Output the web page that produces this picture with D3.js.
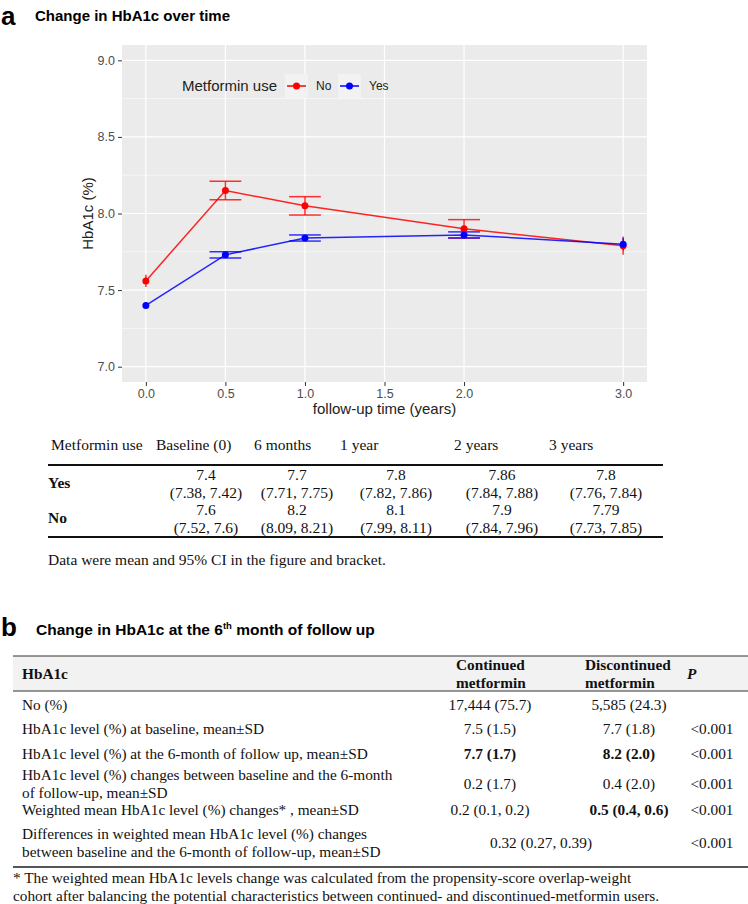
<!DOCTYPE html>
<html>
<head>
<meta charset="utf-8">
<script src="https://cdn.jsdelivr.net/npm/d3@7"></script>
<style>
    body { margin: 0; background: #fff; }
    #chart { width: 748px; height: 904px; }
</style>
</head>
<body>
<div id="chart"></div>
<script>

// panel a - chart values (mean and 95% CI)
var times = [0, 0.5, 1, 2, 3];
var xTicks = [0, 0.5, 1, 1.5, 2, 3];
var yTicks = [7, 7.5, 8, 8.5, 9];
var yMinor = [7.25, 7.75, 8.25, 8.75];

var noMean = [7.56, 8.15, 8.05, 7.90, 7.79];
var noLow  = [7.52, 8.09, 7.99, 7.84, 7.73];
var noHigh = [7.60, 8.21, 8.11, 7.96, 7.85];

var yesMean = [7.40, 7.73, 7.84, 7.86, 7.80];
var yesLow  = [7.38, 7.71, 7.82, 7.84, 7.76];
var yesHigh = [7.42, 7.75, 7.86, 7.88, 7.84];

var groups = ["No", "Yes"];

// panel a - table below the chart
var tableCols = ["Baseline (0)", "6 months", "1 year", "2 years", "3 years"];
var tableYesMean = ["7.4", "7.7", "7.8", "7.86", "7.8"];
var tableYesCI = ["(7.38, 7.42)", "(7.71, 7.75)", "(7.82, 7.86)", "(7.84, 7.88)", "(7.76, 7.84)"];
var tableNoMean = ["7.6", "8.2", "8.1", "7.9", "7.79"];
var tableNoCI = ["(7.52, 7.6)", "(8.09, 8.21)", "(7.99, 8.11)", "(7.84, 7.96)", "(7.73, 7.85)"];

// panel b - table
var bHeaders = ["HbA1c", "Continued metformin", "Discontinued metformin", "P"];
var bLabels = [
    ["No (%)"],
    ["HbA1c level (%) at baseline, mean\u00b1SD"],
    ["HbA1c level (%) at the 6-month of follow up, mean\u00b1SD"],
    ["HbA1c level (%) changes between baseline and the 6-month", "of follow-up, mean\u00b1SD"],
    ["Weighted mean HbA1c level (%) changes* , mean\u00b1SD"],
    ["Differences in weighted mean HbA1c level (%) changes", "between baseline and the 6-month of follow-up, mean\u00b1SD"]
];
var bContinued = ["17,444 (75.7)", "7.5 (1.5)", "7.7 (1.7)", "0.2 (1.7)", "0.2 (0.1, 0.2)", "0.32 (0.27, 0.39)"];
var bDiscontinued = ["5,585 (24.3)", "7.7 (1.8)", "8.2 (2.0)", "0.4 (2.0)", "0.5 (0.4, 0.6)", ""];
var bP = ["", "<0.001", "<0.001", "<0.001", "<0.001", "<0.001"];
var bFootnote = [
    "* The weighted mean HbA1c levels change was calculated from the propensity-score overlap-weight",
    "cohort after balancing the potential characteristics between continued- and discontinued-metformin users."
];


var width = 748;
var height = 904;

var sans = "'Liberation Sans', Arial, sans-serif";
var serif = "'Liberation Serif', 'Times New Roman', serif";

var svg = d3.select("#chart")
    .append("svg")
    .attr("width", width)
    .attr("height", height);

svg.append("rect")
    .attr("width", width)
    .attr("height", height)
    .attr("fill", "#fff");

// ---------- panel a heading ----------
svg.append("text")
    .attr("x", 1).attr("y", 25)
    .attr("font-family", sans).attr("font-weight", "bold").attr("font-size", 26)
    .text("a");

svg.append("text")
    .attr("x", 35).attr("y", 21)
    .attr("font-family", sans).attr("font-weight", "bold").attr("font-size", 15)
    .text("Change in HbA1c over time");

// ---------- chart ----------
var panel = { left: 122, right: 647, top: 45, bottom: 382 };

var x = d3.scaleLinear()
    .domain([-0.15, 3.15])
    .range([panel.left, panel.right]);

var y = d3.scaleLinear()
    .domain([6.9, 9.1])
    .range([panel.bottom, panel.top]);

var colour = d3.scaleOrdinal()
    .domain(groups)
    .range(["red", "blue"]);

svg.append("rect")
    .attr("x", panel.left).attr("y", panel.top)
    .attr("width", panel.right - panel.left)
    .attr("height", panel.bottom - panel.top)
    .attr("fill", "#ebebeb");

svg.selectAll("line.minor")
    .data(yMinor)
    .enter()
    .append("line")
        .attr("class", "minor")
        .attr("x1", panel.left).attr("x2", panel.right)
        .attr("y1", function(d) { return y(d); })
        .attr("y2", function(d) { return y(d); })
        .attr("stroke", "#fff").attr("stroke-width", 0.6);

svg.selectAll("line.hmajor")
    .data(yTicks)
    .enter()
    .append("line")
        .attr("class", "hmajor")
        .attr("x1", panel.left).attr("x2", panel.right)
        .attr("y1", function(d) { return y(d); })
        .attr("y2", function(d) { return y(d); })
        .attr("stroke", "#fff").attr("stroke-width", 1.2);

svg.selectAll("line.vmajor")
    .data(xTicks)
    .enter()
    .append("line")
        .attr("class", "vmajor")
        .attr("y1", panel.top).attr("y2", panel.bottom)
        .attr("x1", function(d) { return x(d); })
        .attr("x2", function(d) { return x(d); })
        .attr("stroke", "#fff").attr("stroke-width", 1.2);

var yAxis = svg.append("g")
    .attr("transform", "translate(" + panel.left + ",0)")
    .call(d3.axisLeft(y).tickValues(yTicks).tickFormat(d3.format(".1f")).tickSize(4).tickPadding(3));

var xAxis = svg.append("g")
    .attr("transform", "translate(0," + panel.bottom + ")")
    .call(d3.axisBottom(x).tickValues(xTicks).tickFormat(d3.format(".1f")).tickSize(4).tickPadding(3));

[yAxis, xAxis].forEach(function(ax) {
    ax.select(".domain").remove();
    ax.selectAll(".tick line").attr("stroke", "#333").attr("stroke-width", 1);
    ax.selectAll(".tick text")
        .attr("fill", "#4d4d4d")
        .attr("font-family", sans)
        .attr("font-size", 12.5);
});

svg.append("text")
    .attr("transform", "translate(93," + ((panel.top + panel.bottom) / 2) + ") rotate(-90)")
    .attr("text-anchor", "middle")
    .attr("font-family", sans).attr("font-size", 15)
    .attr("fill", "#222")
    .text("HbA1c (%)");

svg.append("text")
    .attr("x", (panel.left + panel.right) / 2).attr("y", 414)
    .attr("text-anchor", "middle")
    .attr("font-family", sans).attr("font-size", 15)
    .attr("fill", "#222")
    .text("follow-up time (years)");

function makeSeries(name, mean, low, high) {
    return times.map(function(t, i) {
        return { group: name, t: t, mean: mean[i], low: low[i], high: high[i] };
    });
}

var series = [
    makeSeries("No", noMean, noLow, noHigh),
    makeSeries("Yes", yesMean, yesLow, yesHigh)
];

var line = d3.line()
    .x(function(d) { return x(d.t); })
    .y(function(d) { return y(d.mean); });

svg.selectAll("path.series")
    .data(series)
    .enter()
    .append("path")
        .attr("class", "series")
        .attr("d", line)
        .attr("fill", "none")
        .attr("stroke", function(d) { return colour(d[0].group); })
        .attr("stroke-opacity", 0.85)
        .attr("stroke-width", 1.5);

// error bars: no caps on the first and last time points (as in the figure)
function capHalf(t) {
    return (t === times[0] || t === times[times.length - 1]) ? 0 : 0.1;
}

var allPoints = series[0].concat(series[1]);

var bars = svg.selectAll("g.errbar")
    .data(allPoints)
    .enter()
    .append("g")
        .attr("class", "errbar")
        .attr("stroke", function(d) { return colour(d.group); })
        .attr("stroke-opacity", 0.8)
        .attr("stroke-width", 1.5);

bars.append("line")
    .attr("x1", function(d) { return x(d.t); })
    .attr("x2", function(d) { return x(d.t); })
    .attr("y1", function(d) { return y(d.low); })
    .attr("y2", function(d) { return y(d.high); });

bars.filter(function(d) { return capHalf(d.t) > 0; })
    .selectAll("line.cap")
    .data(function(d) {
        return [d.low, d.high].map(function(v) { return { t: d.t, v: v }; });
    })
    .enter()
    .append("line")
        .attr("class", "cap")
        .attr("x1", function(d) { return x(d.t - capHalf(d.t)); })
        .attr("x2", function(d) { return x(d.t + capHalf(d.t)); })
        .attr("y1", function(d) { return y(d.v); })
        .attr("y2", function(d) { return y(d.v); });

svg.selectAll("circle.pt")
    .data(allPoints)
    .enter()
    .append("circle")
        .attr("class", "pt")
        .attr("cx", function(d) { return x(d.t); })
        .attr("cy", function(d) { return y(d.mean); })
        .attr("r", 3.5)
        .attr("fill", function(d) { return colour(d.group); });

// legend inside the panel
var legend = svg.append("g").attr("transform", "translate(182,86)");

legend.append("text")
    .attr("x", 0).attr("y", 0)
    .attr("dy", "0.35em")
    .attr("font-family", sans).attr("font-size", 15)
    .attr("fill", "#222")
    .text("Metformin use");

var keyX = [103, 156];
var key = legend.selectAll("g.key")
    .data(groups)
    .enter()
    .append("g")
        .attr("class", "key")
        .attr("transform", function(d, i) { return "translate(" + keyX[i] + ",0)"; });

key.append("rect")
    .attr("x", 0).attr("y", -12)
    .attr("width", 23).attr("height", 24)
    .attr("fill", "#f2f2f2");

key.append("line")
    .attr("x1", 2).attr("x2", 21)
    .attr("y1", 0).attr("y2", 0)
    .attr("stroke", function(d) { return colour(d); })
    .attr("stroke-width", 1.5);

key.append("circle")
    .attr("cx", 11.5).attr("cy", 0).attr("r", 3.5)
    .attr("fill", function(d) { return colour(d); });

key.append("text")
    .attr("x", 31).attr("y", 0)
    .attr("dy", "0.35em")
    .attr("font-family", sans).attr("font-size", 12)
    .attr("fill", "#222")
    .text(function(d) { return d; });

// ---------- table under the chart ----------
var colStart = [156, 254, 340, 454, 549];
var colCentre = [206, 297, 396, 502, 606];

var tA = svg.append("g")
    .attr("font-family", serif).attr("font-size", 15.5).attr("fill", "#111");

tA.append("text")
    .attr("x", 51).attr("y", 445).attr("dy", "0.35em")
    .text("Metformin use");

tA.selectAll("text.col")
    .data(tableCols)
    .enter()
    .append("text")
        .attr("class", "col")
        .attr("x", function(d, i) { return colStart[i]; })
        .attr("y", 445).attr("dy", "0.35em")
        .text(function(d) { return d; });

tA.append("line")
    .attr("x1", 48).attr("x2", 663)
    .attr("y1", 465).attr("y2", 465)
    .attr("stroke", "#111").attr("stroke-width", 1.8);

tA.append("line")
    .attr("x1", 48).attr("x2", 663)
    .attr("y1", 537).attr("y2", 537)
    .attr("stroke", "#111").attr("stroke-width", 1.8);

var tableRows = [
    { label: "Yes", mean: tableYesMean, ci: tableYesCI, y: 475 },
    { label: "No", mean: tableNoMean, ci: tableNoCI, y: 510 }
];

tableRows.forEach(function(r) {
    tA.append("text")
        .attr("x", 48).attr("y", r.y + 8).attr("dy", "0.35em")
        .attr("font-weight", "bold")
        .text(r.label);

    tA.selectAll("text.m" + r.label)
        .data(r.mean)
        .enter()
        .append("text")
            .attr("x", function(d, i) { return colCentre[i]; })
            .attr("y", r.y).attr("dy", "0.35em")
            .attr("text-anchor", "middle")
            .text(function(d) { return d; });

    tA.selectAll("text.c" + r.label)
        .data(r.ci)
        .enter()
        .append("text")
            .attr("x", function(d, i) { return colCentre[i]; })
            .attr("y", r.y + 18).attr("dy", "0.35em")
            .attr("text-anchor", "middle")
            .text(function(d) { return d; });
});

tA.append("text")
    .attr("x", 48).attr("y", 560).attr("dy", "0.35em")
    .text("Data were mean and 95% CI in the figure and bracket.");

// ---------- panel b ----------
svg.append("text")
    .attr("x", 1).attr("y", 636)
    .attr("font-family", sans).attr("font-weight", "bold").attr("font-size", 26)
    .text("b");

var titleB = svg.append("text")
    .attr("x", 36).attr("y", 635)
    .attr("font-family", sans).attr("font-weight", "bold").attr("font-size", 15.5);
titleB.append("tspan").text("Change in HbA1c at the 6");
titleB.append("tspan").attr("font-size", 9.5).attr("dy", -6).text("th");
titleB.append("tspan").attr("dy", 6).text(" month of follow up");

var tB = svg.append("g")
    .attr("font-family", serif).attr("font-size", 15.3).attr("fill", "#111");

tB.append("rect")
    .attr("x", 13).attr("y", 656)
    .attr("width", width - 13).attr("height", 35)
    .attr("fill", "#f2f2f2");

tB.append("line")
    .attr("x1", 13).attr("x2", width)
    .attr("y1", 656).attr("y2", 656)
    .attr("stroke", "#333").attr("stroke-width", 1.2);

tB.append("line")
    .attr("x1", 13).attr("x2", width)
    .attr("y1", 691).attr("y2", 691)
    .attr("stroke", "#333").attr("stroke-width", 1.2);

tB.append("text")
    .attr("x", 22).attr("y", 674).attr("dy", "0.35em")
    .attr("font-weight", "bold")
    .text(bHeaders[0]);

var headX = [456, 585];
[bHeaders[1], bHeaders[2]].forEach(function(h, i) {
    var words = h.split(" ");
    words.forEach(function(w, j) {
        tB.append("text")
            .attr("x", headX[i]).attr("y", 665 + j * 18).attr("dy", "0.35em")
            .attr("font-weight", "bold")
            .text(w);
    });
});

tB.append("text")
    .attr("x", 687).attr("y", 674).attr("dy", "0.35em")
    .attr("font-weight", "bold").attr("font-style", "italic")
    .text(bHeaders[3]);

var rowY = [705, 729, 754, 784, 810, 843];
var boldCont = [2];
var boldDisc = [2, 4];

bLabels.forEach(function(lines, i) {
    lines.forEach(function(l, j) {
        tB.append("text")
            .attr("x", 22)
            .attr("y", rowY[i] + (j - (lines.length - 1) / 2) * 18)
            .attr("dy", "0.35em")
            .text(l);
    });

    var merged = bDiscontinued[i] === "";

    tB.append("text")
        .attr("x", merged ? 541 : 490).attr("y", rowY[i]).attr("dy", "0.35em")
        .attr("text-anchor", "middle")
        .attr("font-weight", boldCont.indexOf(i) >= 0 ? "bold" : "normal")
        .text(bContinued[i]);

    tB.append("text")
        .attr("x", 629).attr("y", rowY[i]).attr("dy", "0.35em")
        .attr("text-anchor", "middle")
        .attr("font-weight", boldDisc.indexOf(i) >= 0 ? "bold" : "normal")
        .text(bDiscontinued[i]);

    tB.append("text")
        .attr("x", 712).attr("y", rowY[i]).attr("dy", "0.35em")
        .attr("text-anchor", "middle")
        .text(bP[i]);
});

tB.append("line")
    .attr("x1", 13).attr("x2", width)
    .attr("y1", 867).attr("y2", 867)
    .attr("stroke", "#555").attr("stroke-width", 2);

bFootnote.forEach(function(l, i) {
    tB.append("text")
        .attr("x", 13).attr("y", 878 + i * 18).attr("dy", "0.35em")
        .text(l);
});

</script>
</body>
</html>
